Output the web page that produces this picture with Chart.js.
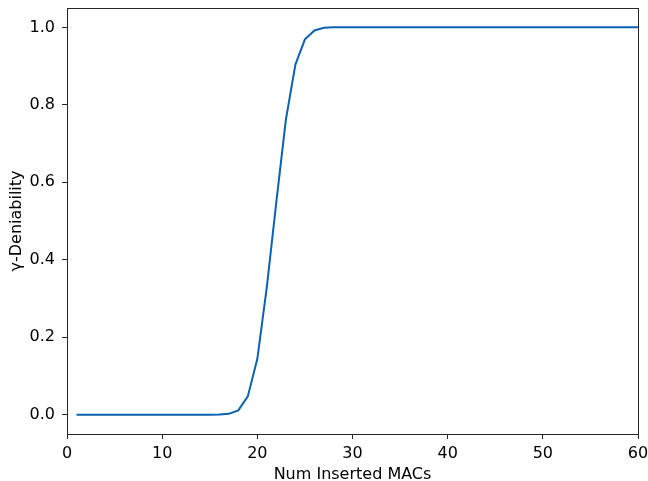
<!DOCTYPE html>
<html>
<head>
<meta charset="utf-8">
<script src="https://cdn.jsdelivr.net/npm/chart.js@4"></script>
<style>
  html, body { margin: 0; padding: 0; background: #fff; }
  #wrap { width: 648px; height: 481px; }
</style>
</head>
<body>
<div id="wrap"><canvas id="chart"></canvas></div>
<script>
// values
const insertedMacs = [];
for (let n = 1; n <= 60; n++) insertedMacs.push(n);
const deniability = [
  0, 0, 0, 0, 0, 0, 0, 0, 0, 0,
  0, 0, 0, 0, 0, 0.0005, 0.002, 0.011, 0.047, 0.144,
  0.33, 0.55, 0.762, 0.904, 0.969, 0.992, 0.999, 1, 1, 1,
  1, 1, 1, 1, 1, 1, 1, 1, 1, 1,
  1, 1, 1, 1, 1, 1, 1, 1, 1, 1,
  1, 1, 1, 1, 1, 1, 1, 1, 1, 1
];
const xTicks = [0, 10, 20, 30, 40, 50, 60];
const yTicks = [0.0, 0.2, 0.4, 0.6, 0.8, 1.0];

const axisColor = '#262626';
const font = { family: 'DejaVu Sans', size: 16 };

// frame around the plot, like matplotlib spines
const frame = {
  id: 'frame',
  afterDraw(chart) {
    const { ctx, chartArea: a } = chart;
    ctx.save();
    ctx.strokeStyle = axisColor;
    ctx.lineWidth = 1;
    ctx.strokeRect(Math.round(a.left) + 0.5, Math.round(a.top) + 0.5,
      Math.round(a.right - a.left), Math.round(a.bottom - a.top));
    ctx.restore();
  }
};

new Chart(document.getElementById('chart'), {
  type: 'line',
  data: {
    datasets: [{
      data: insertedMacs.map((x, i) => ({ x: x, y: deniability[i] })),
      borderColor: '#0b62b0',
      borderWidth: 2,
      pointRadius: 0,
      fill: false,
      tension: 0
    }]
  },
  options: {
    responsive: true,
    maintainAspectRatio: false,
    animation: false,
    layout: { padding: { top: 8, right: 10, left: 0, bottom: 0 } },
    plugins: { legend: { display: false }, tooltip: { enabled: false } },
    scales: {
      x: {
        type: 'linear',
        min: 0,
        max: 60,
        afterBuildTicks: s => { s.ticks = xTicks.map(v => ({ value: v })); },
        afterFit: s => { s.height = 47; s.paddingLeft = 0; s.paddingRight = 0; },
        ticks: { color: '#000', font: font, padding: 5, maxRotation: 0 },
        grid: { drawOnChartArea: false, drawTicks: true, tickLength: 5, color: axisColor },
        border: { color: axisColor },
        title: { display: true, text: 'Num Inserted MACs', color: '#000', font: font, padding: { top: 0, bottom: -3 } }
      },
      y: {
        min: -0.05,
        max: 1.05,
        afterBuildTicks: s => { s.ticks = yTicks.map(v => ({ value: v })); },
        afterFit: s => { s.width = 67; s.paddingTop = 0; s.paddingBottom = 0; },
        ticks: { color: '#000', font: font, padding: 7, callback: v => v.toFixed(1) },
        grid: { drawOnChartArea: false, drawTicks: true, tickLength: 5, color: axisColor },
        border: { color: axisColor },
        title: { display: true, text: 'γ-Deniability', color: '#000', font: font, padding: { top: 7, bottom: 0 } }
      }
    }
  },
  plugins: [frame]
});
</script>
</body>
</html>
